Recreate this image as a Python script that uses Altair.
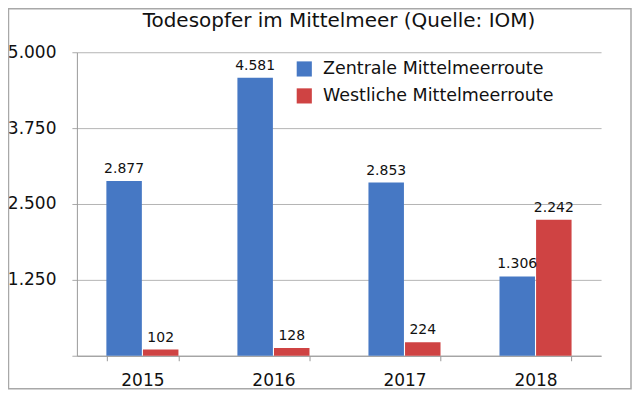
import altair as alt
import pandas as pd

years = ["2015", "2016", "2017", "2018"]
routes = ["Zentrale Mittelmeerroute", "Westliche Mittelmeerroute"]
zentral = [2877, 4581, 2853, 1306]
westlich = [102, 128, 224, 2242]
colors = ["#4678c4", "#cf4343"]
y_ticks = [0, 1250, 2500, 3750, 5000]

rows = []
for i, y in enumerate(years):
    rows.append({"year": y, "route": routes[0], "value": zentral[i]})
    rows.append({"year": y, "route": routes[1], "value": westlich[i]})
df = pd.DataFrame(rows)

FONT = "DejaVu Sans"

x_enc = alt.X("year:N", sort=years,
              scale=alt.Scale(paddingInner=0.45, paddingOuter=0.225),
              axis=alt.Axis(title=None, labelFontSize=17, labelColor="#111",
                            labelFont=FONT, labelAngle=0, labelPadding=12,
                            tickBand="extent", tickSize=5, tickColor="#999",
                            domainColor="#999", grid=False))
xoff = alt.XOffset("route:N", sort=routes, scale=alt.Scale(paddingInner=0.03))
y_enc = alt.Y("value:Q",
              scale=alt.Scale(domain=[0, 5000], nice=False),
              axis=alt.Axis(title=None, values=y_ticks, labelFontSize=17,
                            labelFont=FONT, labelColor="#111", labelPadding=16,
                            tickSize=5, tickColor="#aaa", gridColor="#b5b5b5",
                            domainColor="#999",
                            labelExpr="datum.value == 0 ? '' : replace(format(datum.value, ','), ',', '.')"))

base = alt.Chart(df)

bars = base.mark_bar().encode(
    x=x_enc, xOffset=xoff, y=y_enc,
    color=alt.Color("route:N", sort=routes,
                    scale=alt.Scale(domain=routes, range=colors),
                    legend=alt.Legend(title=None, orient="none", legendX=219, legendY=8,
                                      symbolType="square", symbolSize=230,
                                      symbolStrokeWidth=0, labelFontSize=17.5,
                                      labelFont=FONT, labelColor="#111",
                                      labelLimit=400,
                                      labelOffset=10, rowPadding=8)),
)

labels = base.transform_calculate(
    label="replace(format(datum.value, ','), ',', '.')"
).mark_text(baseline="bottom", dy=-5, fontSize=14, font=FONT, color="#111").encode(
    x=alt.X("year:N", sort=years), xOffset=xoff, y="value:Q", text="label:N"
)

border = alt.Chart(alt.Data(values=[{}])).mark_rect(
    fill="transparent", stroke="#a8a8a8", strokeWidth=1.5
).encode(x=alt.value(-68.5), x2=alt.value(555), y=alt.value(-43.5), y2=alt.value(337))

chart = alt.layer(bars, labels, border).properties(
    width=525, height=304,
    autosize=alt.AutoSizeParams(type="none"),
    padding={"left": 69, "top": 44, "right": 31, "bottom": 34},
    title=alt.TitleParams("Todesopfer im Mittelmeer (Quelle: IOM)", fontSize=20,
                          font=FONT, fontWeight="normal", color="#111",
                          anchor="middle", offset=-23),
).configure_view(stroke=None)

chart.save("out.html", embed_options={"renderer": "svg", "actions": False})
